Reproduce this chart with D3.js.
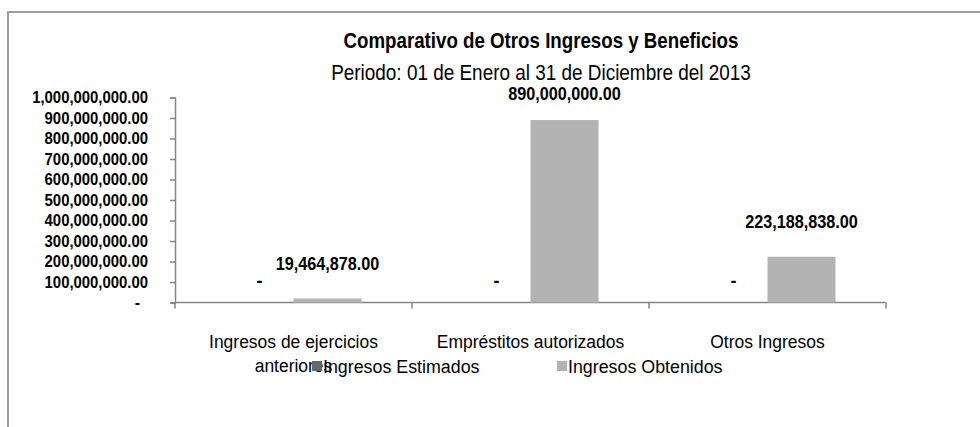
<!DOCTYPE html>
<html>
<head>
<meta charset="utf-8">
<script src="https://cdn.jsdelivr.net/npm/d3@7/dist/d3.min.js"></script>
<style>
  html, body { margin: 0; padding: 0; background: #fff; }
  svg { display: block; }
  text { font-family: 'Liberation Sans Narrow', 'Arial Narrow', 'Liberation Sans', Arial, sans-serif; fill: #000; }
</style>
</head>
<body>
<svg id="chart" width="980" height="427"></svg>
<script>
// ---- data ----
const categories = ["Ingresos de ejercicios anteriores", "Empréstitos autorizados", "Otros Ingresos"];
const categoryLines = [["Ingresos de ejercicios", "anteriores"], ["Empréstitos autorizados"], ["Otros Ingresos"]];
const seriesNames = ["Ingresos Estimados", "Ingresos Obtenidos"];
const estimados = [0, 0, 0];
const obtenidos = [19464878, 890000000, 223188838];
const yTicks = [0, 100000000, 200000000, 300000000, 400000000, 500000000, 600000000, 700000000, 800000000, 900000000, 1000000000];
const titleText = "Comparativo de Otros Ingresos y Beneficios";
const subtitleText = "Periodo: 01 de Enero al 31 de Diciembre del 2013";

const seriesColors = ["#666666", "#b3b3b3"];
const axisColor = "#868686";

const svg = d3.select("#chart");

// emulate a narrow typeface by compressing the rendered glyphs horizontally
function condense(sel, factor) {
  sel.each(function () {
    const len = this.getComputedTextLength();
    if (len > 0) {
      d3.select(this).attr("textLength", len * factor).attr("lengthAdjust", "spacingAndGlyphs");
    }
  });
}

// outer frame (right and bottom edges fall outside the view)
svg.append("rect").attr("x", 8).attr("y", 12).attr("width", 1000).attr("height", 440)
  .attr("fill", "none").attr("stroke", "#9c9c9c").attr("stroke-width", 2);

const plot = { left: 175, right: 886, top: 97.5, bottom: 302.5 };

const y = d3.scaleLinear().domain([0, 1000000000]).range([plot.bottom, plot.top]);
const x0 = d3.scaleBand().domain(categories).range([plot.left, plot.right])
  .paddingInner(0.426).paddingOuter(0.213);
const x1 = d3.scaleBand().domain(seriesNames).range([0, x0.bandwidth()]);

const fmt = d3.format(",.2f");
const valueFmt = v => v === 0 ? "-" : fmt(v);

// y axis
const yAxis = d3.axisLeft(y).tickValues(yTicks).tickSize(5).tickPadding(22)
  .tickFormat(v => v === 0 ? "-" : fmt(v));
const gy = svg.append("g").attr("transform", `translate(${plot.left},0)`).call(yAxis);
gy.select(".domain").attr("stroke", axisColor).attr("stroke-width", 1.5);
gy.selectAll(".tick line").attr("stroke", axisColor).attr("stroke-width", 1.5);
const yLabels = gy.selectAll(".tick text")
  .style("font-family", "'Liberation Sans Narrow', 'Arial Narrow', 'Liberation Sans', Arial, sans-serif")
  .style("font-size", "16px").style("font-weight", "bold")
  .attr("fill", "#000")
  .attr("dx", d => d === 0 ? -8 : 0);
condense(yLabels.filter(d => d !== 0), 0.93);

// x axis (category boundaries as ticks)
svg.append("line").attr("x1", plot.left).attr("x2", plot.right)
  .attr("y1", plot.bottom).attr("y2", plot.bottom)
  .attr("stroke", axisColor).attr("stroke-width", 1.5);
const step = x0.step();
const boundaries = d3.range(categories.length + 1).map(i => plot.left + i * step);
svg.selectAll(".xtick").data(boundaries).join("line")
  .attr("x1", d => d).attr("x2", d => d)
  .attr("y1", plot.bottom).attr("y2", plot.bottom + 6)
  .attr("stroke", axisColor).attr("stroke-width", 1.5);

// bars
const rows = categories.map((c, i) => ({ cat: c, vals: [estimados[i], obtenidos[i]] }));
const groups = svg.selectAll(".grp").data(rows).join("g")
  .attr("transform", d => `translate(${x0(d.cat)},0)`);

groups.selectAll("rect").data(d => d.vals.map((v, j) => ({ s: seriesNames[j], v, j })))
  .join("rect")
  .attr("x", d => x1(d.s))
  .attr("width", x1.bandwidth())
  .attr("y", d => y(d.v))
  .attr("height", d => plot.bottom - y(d.v))
  .attr("fill", d => seriesColors[d.j]);

// value labels
const valLabels = groups.selectAll("text.val").data(d => d.vals.map((v, j) => ({ s: seriesNames[j], v, j })))
  .join("text")
  .attr("class", "val")
  .attr("x", d => x1(d.s) + x1.bandwidth() / 2)
  .attr("y", d => d.v === 0 ? plot.bottom - 16 : Math.max(y(d.v) - 29, 100))
  .attr("text-anchor", "middle")
  .style("font-size", "18px").style("font-weight", "bold")
  .text(d => valueFmt(d.v));
condense(valLabels.filter(d => d.v !== 0), 0.9);

// category labels
svg.selectAll(".cat").data(categories).join("text")
  .attr("class", "cat")
  .attr("x", d => x0(d) + x0.bandwidth() / 2)
  .attr("y", 348)
  .attr("text-anchor", "middle")
  .style("font-size", "18px")
  .each(function (d, i) {
    d3.select(this).selectAll("tspan").data(categoryLines[i]).join("tspan")
      .attr("x", x0(d) + x0.bandwidth() / 2)
      .attr("dy", (t, k) => k === 0 ? 0 : 24)
      .text(t => t);
  });
condense(svg.selectAll(".cat tspan"), 0.97);

// legend
const legendX = [312, 557];
const legend = svg.selectAll(".leg").data(seriesNames).join("g")
  .attr("transform", (d, i) => `translate(${legendX[i]},361)`);
legend.append("rect").attr("width", 10).attr("height", 10)
  .attr("fill", (d, i) => seriesColors[i]);
const legText = legend.append("text").attr("x", 11).attr("y", 11.5)
  .style("font-size", "18px").text(d => d);
condense(legText, 0.99);

// titles
const t1 = svg.append("text").attr("x", 541).attr("y", 48).attr("text-anchor", "middle")
  .style("font-size", "22px").style("font-weight", "bold").text(titleText);
const t2 = svg.append("text").attr("x", 541).attr("y", 80).attr("text-anchor", "middle")
  .style("font-size", "22px").text(subtitleText);
condense(t1, 0.85);
condense(t2, 0.86);
</script>
</body>
</html>
